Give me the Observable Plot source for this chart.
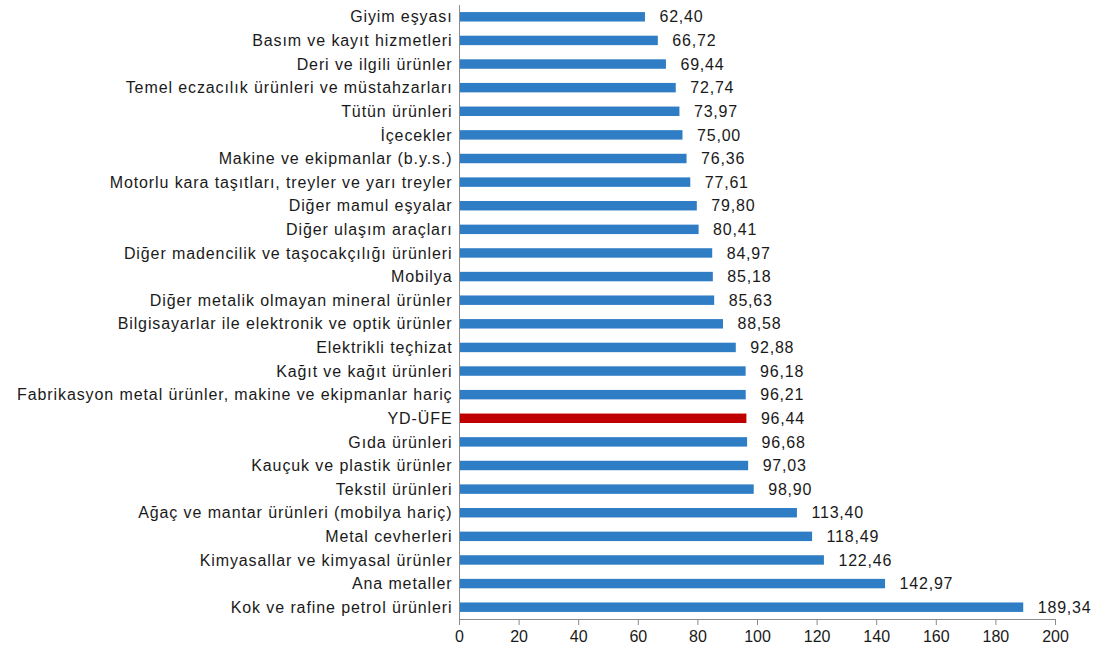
<!DOCTYPE html>
<html>
<head>
<meta charset="utf-8">
<script src="https://cdn.jsdelivr.net/npm/d3@7"></script>
<script src="https://cdn.jsdelivr.net/npm/@observablehq/plot@0.6"></script>
<style>
  body { margin: 0; background: #fff; }
  #chart svg { font-family: "Liberation Sans", Arial, sans-serif; }
  #chart g[aria-label="y-axis tick label"] text { letter-spacing: 0.9px; }
  #chart g[aria-label="text"] text { letter-spacing: 0.8px; }
</style>
</head>
<body>
<div id="chart"></div>
<script>
const categories = [
  "Giyim eşyası",
  "Basım ve kayıt hizmetleri",
  "Deri ve ilgili ürünler",
  "Temel eczacılık ürünleri ve müstahzarları",
  "Tütün ürünleri",
  "İçecekler",
  "Makine ve ekipmanlar (b.y.s.)",
  "Motorlu kara taşıtları, treyler ve yarı treyler",
  "Diğer mamul eşyalar",
  "Diğer ulaşım araçları",
  "Diğer madencilik ve taşocakçılığı ürünleri",
  "Mobilya",
  "Diğer metalik olmayan mineral ürünler",
  "Bilgisayarlar ile elektronik ve optik ürünler",
  "Elektrikli teçhizat",
  "Kağıt ve kağıt ürünleri",
  "Fabrikasyon metal ürünler, makine ve ekipmanlar hariç",
  "YD-ÜFE",
  "Gıda ürünleri",
  "Kauçuk ve plastik ürünler",
  "Tekstil ürünleri",
  "Ağaç ve mantar ürünleri (mobilya hariç)",
  "Metal cevherleri",
  "Kimyasallar ve kimyasal ürünler",
  "Ana metaller",
  "Kok ve rafine petrol ürünleri"
];
const values = [62.40, 66.72, 69.44, 72.74, 73.97, 75.00, 76.36, 77.61, 79.80, 80.41, 84.97, 85.18, 85.63, 88.58, 92.88, 96.18, 96.21, 96.44, 96.68, 97.03, 98.90, 113.40, 118.49, 122.46, 142.97, 189.34];
const highlight = "YD-ÜFE";
const xTicks = [0, 20, 40, 60, 80, 100, 120, 140, 160, 180, 200];

const data = categories.map((c, i) => ({category: c, value: values[i]}));
const fmt = v => v.toFixed(2).replace(".", ",");

const chart = Plot.plot({
  width: 1115,
  height: 651,
  marginLeft: 459,
  marginRight: 60,
  marginTop: 5,
  marginBottom: 32,
  style: {fontFamily: "Liberation Sans, Arial, sans-serif", fontSize: "16px", color: "#1a1a1a"},
  x: {domain: [0, 200], label: null},
  y: {domain: categories, paddingInner: 0.6, paddingOuter: 0.3, round: false, label: null},
  marks: [
    Plot.barX(data, {
      x: "value", y: "category",
      fill: d => d.category === highlight ? "#C00000" : "#2E7DC5"
    }),
    Plot.text(data, {
      x: "value", y: "category", text: d => fmt(d.value),
      dx: 14, textAnchor: "start", fontSize: 16, fill: "#1a1a1a"
    }),
    Plot.frame({anchor: "left", stroke: "#8c8c8c"}),
    Plot.frame({anchor: "bottom", stroke: "#8c8c8c"}),
    Plot.axisX({ticks: xTicks, tickSize: 6, tickPadding: 5, stroke: "#8c8c8c", fontSize: 16, label: null, tickFormat: d => d}),
    Plot.axisY({tickSize: 0, tickPadding: 7, fontSize: 16, label: null})
  ]
});
document.getElementById("chart").appendChild(chart);
</script>
</body>
</html>
